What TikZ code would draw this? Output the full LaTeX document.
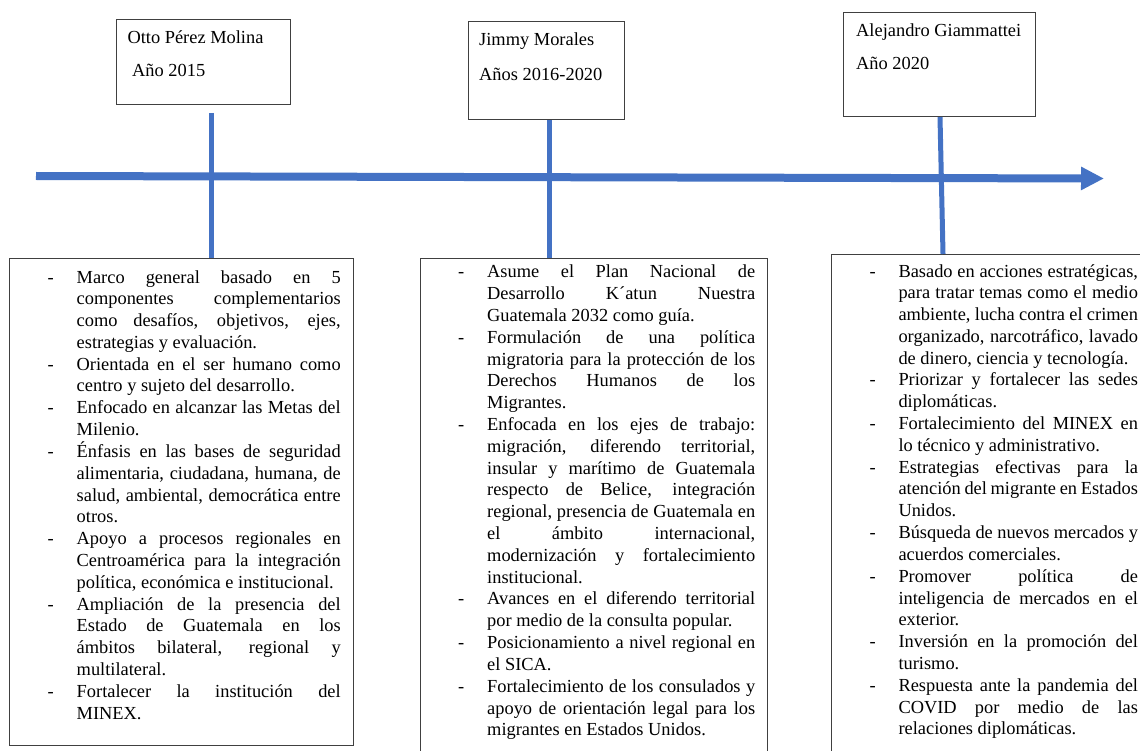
\documentclass[tikz,border=0pt]{standalone}
\usepackage{fontspec}
\setmainfont[Ligatures=NoCommon]{Liberation Serif}
\usepackage{tikz}
\usetikzlibrary{arrows.meta,positioning}
\definecolor{lineaAzul}{HTML}{4472C4}
\definecolor{borde}{HTML}{404040}
\newcommand{\guion}{\par\noindent\hangindent=29pt\hangafter=1\makebox[29pt][l]{-}\strut}
\tolerance=10000 \hbadness=10000 \hyphenpenalty=10000 \exhyphenpenalty=10000
\begin{document}
\begin{tikzpicture}[x=1pt,y=-1pt,every node/.style={font=\fontsize{18.4}{21.8}\selectfont}]
      \tikzstyle{caja}=[draw=borde,line width=1pt,fill=white,anchor=north west,inner sep=0pt]
      \tikzstyle{nombre}=[anchor=base west,inner sep=0pt]
      \tikzstyle{lista}=[anchor=north west,inner sep=0pt,align=justify]
      \tikzstyle{tallo}=[draw=lineaAzul,line width=5pt]
      \useasboundingbox (0,0) rectangle (1140,751);
      \clip (0,0) rectangle (1140,751);
      \fill[white] (0,0) rectangle (1140,751);
      % linea de tiempo
      \coordinate (ini) at (36,176);
      \coordinate (fin) at (1104,178.5);
      \draw[lineaAzul,line width=8pt,-{Triangle[length=23pt,width=22pt]}] (ini) -- (fin);
      % presidentes
      \node[caja,minimum width=174pt,minimum height=85pt] (b1) at (116,19) {};
      \node[nombre] (n1) at (127.3,43.5) {Otto Pérez Molina};
      \node[nombre] (a1) at (132,77) {Año 2015};
      \node[caja,minimum width=156pt,minimum height=98pt] (b2) at (468,21) {};
      \node[nombre] (n2) at (479,45.3) {Jimmy Morales};
      \node[nombre] (a2) at (479,81) {Años 2016-2020};
      \node[caja,minimum width=192pt,minimum height=104pt] (b3) at (843,12) {};
      \node[nombre] (n3) at (856,36.5) {Alejandro Giammattei};
      \node[nombre] (a3) at (856,70) {Año 2020};
      % recuadros de acciones
      \node[caja,minimum width=344pt,minimum height=487pt] (fA) at (9,258) {};
      \node[caja,minimum width=347pt,minimum height=510pt] (fB) at (420,258) {};
      \node[caja,minimum width=330pt,minimum height=510pt] (fC) at (831,254) {};
      % uniones
      \coordinate (k1) at (211,113);
      \draw[tallo] (k1) -- (k1 |- fA.north);
      \coordinate (k2) at (549,0);
      \draw[tallo] (b2.south -| k2) -- (k2 |- fB.north);
      \coordinate (k3) at (940,0);
      \draw[tallo] (b3.south -| k3) -- ([xshift=3pt]k3 |- fC.north);
      % textos
      \node[lista,text width=293pt] (lA) at (47.5,261) {%
        \guion Marco general basado en 5 \linebreak componentes complementarios \linebreak como desafíos, objetivos, ejes, \linebreak estrategias y evaluación.
        \guion Orientada en el ser humano como \linebreak centro y sujeto del desarrollo.
        \guion Enfocado en alcanzar las Metas del \linebreak Milenio.
        \guion Énfasis en las bases de seguridad \linebreak alimentaria, ciudadana, humana, de \linebreak salud, ambiental, democrática entre \linebreak otros.
        \guion Apoyo a procesos regionales en \linebreak Centroamérica para la integración \linebreak política, económica e institucional.
        \guion Ampliación de la presencia del \linebreak Estado de Guatemala en los \linebreak ámbitos bilateral, regional y \linebreak multilateral.
        \guion Fortalecer la institución del \linebreak MINEX.\par};
      \node[lista,text width=297pt] (lB) at (458,256) {%
        \guion Asume el Plan Nacional de \linebreak Desarrollo K´atun Nuestra \linebreak Guatemala 2032 como guía.
        \guion Formulación de una política \linebreak migratoria para la protección de los \linebreak Derechos Humanos de los \linebreak Migrantes.
        \guion Enfocada en los ejes de trabajo: \linebreak migración, diferendo territorial, \linebreak insular y marítimo de Guatemala \linebreak respecto de Belice, integración \linebreak regional, presencia de Guatemala en \linebreak el ámbito internacional, \linebreak modernización y fortalecimiento \linebreak institucional.
        \guion Avances en el diferendo territorial \linebreak por medio de la consulta popular.
        \guion Posicionamiento a nivel regional en \linebreak el SICA.
        \guion Fortalecimiento de los consulados y \linebreak apoyo de orientación legal para los \linebreak migrantes en Estados Unidos.\par};
      \node[lista,text width=268.5pt] (lC) at (869.3,255) {%
        \guion Basado en acciones estratégicas, \linebreak para tratar temas como el medio \linebreak ambiente, lucha contra el crimen \linebreak organizado, narcotráfico, lavado \linebreak de dinero, ciencia y tecnología.
        \guion Priorizar y fortalecer las sedes \linebreak diplomáticas.
        \guion Fortalecimiento del MINEX en \linebreak lo técnico y administrativo.
        \guion Estrategias efectivas para la \linebreak atención del migrante en Estados \linebreak Unidos.
        \guion Búsqueda de nuevos mercados y \linebreak acuerdos comerciales.
        \guion Promover política de \linebreak inteligencia de mercados en el \linebreak exterior.
        \guion Inversión en la promoción del \linebreak turismo.
        \guion Respuesta ante la pandemia del \linebreak COVID por medio de las \linebreak relaciones diplomáticas.\par};
    \end{tikzpicture}
\end{document}
